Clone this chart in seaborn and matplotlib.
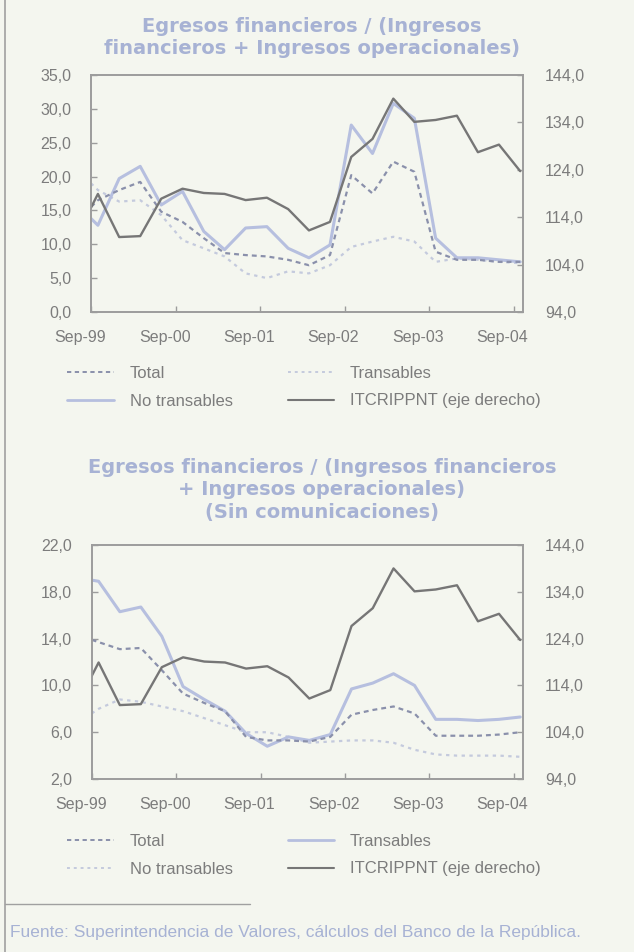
import numpy as np
import pandas as pd
import matplotlib
matplotlib.use("Agg")
import matplotlib.pyplot as plt
import matplotlib.dates as mdates
import matplotlib.transforms as mtransforms
from matplotlib.lines import Line2D
from matplotlib import font_manager
import seaborn as sns

# quarterly observations (first one sits on the left edge of the plot)
dates = ["1999-08-31", "1999-09-30", "1999-12-31", "2000-03-31", "2000-06-30", "2000-09-30",
         "2000-12-31", "2001-03-31", "2001-06-30", "2001-09-30", "2001-12-31", "2002-03-31",
         "2002-06-30", "2002-09-30", "2002-12-31", "2003-03-31", "2003-06-30", "2003-09-30",
         "2003-12-31", "2004-03-31", "2004-06-30", "2004-09-30"]

# ITCRIPPNT, right axis (same series in both panels)
itcr = [116.0, 118.9, 109.8, 110.0, 117.9, 120.0, 119.1, 118.9, 117.6, 118.1, 115.7, 111.2,
        113.0, 126.7, 130.5, 139.0, 134.1, 134.5, 135.4, 127.7, 129.3, 123.7]

# panel 1: all firms
top_total = [15.5, 16.5, 18.0, 19.2, 14.8, 13.3, 10.9, 8.7, 8.4, 8.2, 7.7, 6.9,
             8.4, 20.2, 17.5, 22.2, 20.7, 8.9, 7.7, 7.7, 7.4, 7.4]
top_trans = [19.0, 18.0, 16.3, 16.5, 14.3, 10.6, 9.4, 8.2, 5.7, 5.0, 6.0, 5.7,
             6.9, 9.6, 10.4, 11.1, 10.4, 7.4, 7.9, 7.7, 7.4, 7.2]
top_notrans = [13.8, 12.8, 19.7, 21.5, 15.8, 17.8, 11.9, 9.2, 12.4, 12.6, 9.4, 8.0,
               9.9, 27.6, 23.4, 30.8, 28.6, 10.9, 8.0, 8.0, 7.7, 7.4]

# panel 2: without communications
bot_total = [13.9, 13.7, 13.1, 13.2, 11.3, 9.3, 8.5, 7.8, 5.6, 5.3, 5.3, 5.2,
             5.6, 7.5, 7.9, 8.2, 7.6, 5.7, 5.7, 5.7, 5.8, 6.0]
bot_trans = [19.0, 18.9, 16.3, 16.7, 14.2, 9.9, 8.8, 7.8, 5.9, 4.8, 5.6, 5.3,
             5.8, 9.7, 10.2, 11.0, 10.0, 7.1, 7.1, 7.0, 7.1, 7.3]
bot_notrans = [7.6, 8.0, 8.8, 8.6, 8.2, 7.8, 7.2, 6.6, 6.0, 6.0, 5.6, 5.1,
               5.2, 5.3, 5.3, 5.1, 4.5, 4.1, 4.0, 4.0, 4.0, 3.9]

xtick_dates = ["1999-09-01", "2000-09-01", "2001-09-01", "2002-09-01", "2003-09-01", "2004-09-01"]
legend_labels = ["Total", "No transables", "Transables", "ITCRIPPNT (eje derecho)"]

BG = "#f4f6ef"
TXT = "#7c7c7c"
TITLE = "#a7b2d4"
SPINE = "#9c9c9c"
C_ITCR = "#767676"
C_BLUE = "#b6bfdf"
C_TOTAL = "#8a90ab"
C_LIGHT = "#c4cadd"

DOTTED = (0, (1.5, 2.0))
DASHED = (0, (2.2, 1.8))

# pick a narrow face if there is one
installed = {f.name for f in font_manager.fontManager.ttflist}
narrow = [n for n in ["Liberation Sans Narrow", "DejaVu Sans Condensed", "Liberation Sans"] if n in installed]

sns.set_theme(style="ticks")
plt.rcParams["font.family"] = narrow + ["DejaVu Sans"]
plt.rcParams["text.color"] = TXT
plt.rcParams["axes.edgecolor"] = SPINE

fig = plt.figure(figsize=(6.34, 9.52), dpi=100, facecolor=BG)

x = pd.to_datetime(dates)


def fmt(v):
    return f"{v:.1f}".replace(".", ",")


def panel(rect, total, trans, notrans, ylim, ystep, trans_solid):
    ax = fig.add_axes(rect)
    ax.set_facecolor(BG)
    df = pd.DataFrame({"fecha": x, "total": total, "trans": trans, "notrans": notrans, "itcr": itcr})

    # top panel: No transables is the solid blue line; bottom panel: Transables is
    solid_col = "trans" if trans_solid else "notrans"
    dot_col = "notrans" if trans_solid else "trans"
    sns.lineplot(data=df, x="fecha", y=dot_col, ax=ax, color=C_LIGHT, lw=1.6, linestyle=DOTTED)
    sns.lineplot(data=df, x="fecha", y=solid_col, ax=ax, color=C_BLUE, lw=2.2)
    sns.lineplot(data=df, x="fecha", y="total", ax=ax, color=C_TOTAL, lw=1.6, linestyle=DASHED)

    ax2 = ax.twinx()
    sns.lineplot(data=df, x="fecha", y="itcr", ax=ax2, color=C_ITCR, lw=1.7)

    ax.set_xlim(x[0], pd.Timestamp("2004-10-12"))
    yt = np.arange(ylim[0], ylim[1] + 0.01, ystep)
    ax.set_ylim(*ylim)
    ax.set_yticks(yt)
    ax.set_yticklabels([fmt(v) for v in yt])
    rt = np.arange(94, 145, 10)
    ax2.set_ylim(94, 144)
    ax2.set_yticks(rt)
    ax2.set_yticklabels([fmt(v) for v in rt])

    ax.set_xticks(pd.to_datetime(xtick_dates))
    ax.xaxis.set_major_formatter(mdates.DateFormatter("%b-%y"))

    for a in (ax, ax2):
        a.set_xlabel("")
        a.set_ylabel("")
        for s in a.spines.values():
            s.set_visible(True)
            s.set_color(SPINE)
            s.set_linewidth(1.2)
        a.tick_params(direction="in", length=4, width=1, color=SPINE,
                      labelsize=11.5, labelcolor=TXT)
    ax.tick_params(axis="y", pad=14)
    ax.tick_params(axis="x", pad=13)
    ax2.tick_params(axis="y", pad=16)

    # the scanned labels sit a little to the left of their ticks
    shift = mtransforms.ScaledTranslation(-8 / 72, 0, fig.dpi_scale_trans)
    for lab in ax.get_xticklabels():
        lab.set_transform(lab.get_transform() + shift)

    solid = Line2D([], [], color=C_BLUE, lw=2.0)
    dotted = Line2D([], [], color=C_LIGHT, lw=1.4, linestyle=DOTTED)
    h = [Line2D([], [], color=C_TOTAL, lw=1.4, linestyle=DASHED),
         dotted if trans_solid else solid,
         solid if trans_solid else dotted,
         Line2D([], [], color=C_ITCR, lw=1.5)]
    return ax, h


ax1, h1 = panel([0.1435, 0.6723, 0.6814, 0.2490], top_total, top_trans, top_notrans,
                (0, 35), 5, trans_solid=False)
ax3, h3 = panel([0.1446, 0.1817, 0.6803, 0.2458], bot_total, bot_trans, bot_notrans,
                (2, 22), 4, trans_solid=True)

leg_kw = dict(ncol=2, frameon=False, fontsize=12, handlelength=2.8, handletextpad=0.95,
              columnspacing=3.3, labelspacing=0.75, labelcolor=TXT, borderpad=0,
              borderaxespad=0)
fig.legend(h1, legend_labels, loc="upper left", bbox_to_anchor=(67 / 634, 1 - 366 / 952), **leg_kw)
fig.legend(h3, legend_labels, loc="upper left", bbox_to_anchor=(67 / 634, 1 - 834 / 952), **leg_kw)

title_kw = dict(ha="center", va="center", color=TITLE, fontsize=14, fontweight="bold",
                family=["DejaVu Sans"], linespacing=1.25)
fig.text(312 / 634, 1 - 37.5 / 952, "Egresos financieros / (Ingresos\nfinancieros + Ingresos operacionales)",
         **title_kw)
fig.text(322 / 634, 1 - 490 / 952,
         "Egresos financieros / (Ingresos financieros\n+ Ingresos operacionales)\n(Sin comunicaciones)",
         **title_kw)

# frame line on the left and the rule above the source note
fig.add_artist(Line2D([5 / 634, 5 / 634], [0, 1], color="#a0a0a0", lw=1.2))
fig.add_artist(Line2D([5 / 634, 250 / 634], [1 - 904 / 952, 1 - 904 / 952], color="#a0a0a0", lw=1.0))
fig.text(10 / 634, 1 - 932 / 952,
         "Fuente: Superintendencia de Valores, cálculos del Banco de la República.",
         ha="left", va="center", color=TITLE, fontsize=12.5)

fig.savefig("out.png", dpi=100, facecolor=BG)
